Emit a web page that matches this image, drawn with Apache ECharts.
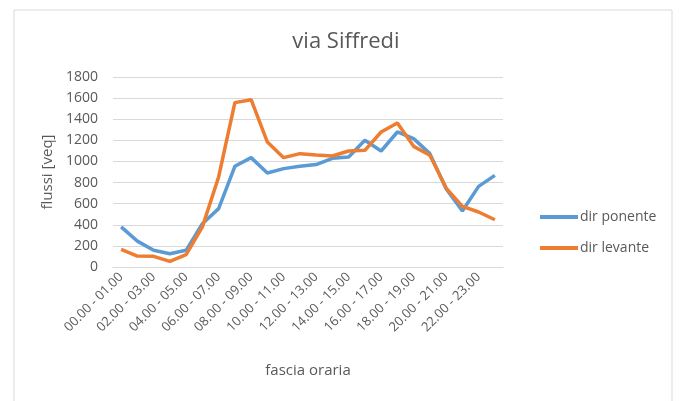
<!DOCTYPE html>
<html>
<head>
    <meta charset="utf-8"/>
    <title>via Siffredi</title>
    <script src="https://cdn.jsdelivr.net/npm/echarts@6/dist/echarts.min.js"></script>
    <style>
        html, body { margin: 0; padding: 0; background: #fff; }
    </style>
</head>
<body>
<div id="main" style="width: 679px; height: 401px"></div>
<script type="text/javascript">
    // fasce orarie
    var hours = ['00.00 - 01.00', '01.00 - 02.00', '02.00 - 03.00', '03.00 - 04.00', '04.00 - 05.00',
        '05.00 - 06.00', '06.00 - 07.00', '07.00 - 08.00', '08.00 - 09.00', '09.00 - 10.00',
        '10.00 - 11.00', '11.00 - 12.00', '12.00 - 13.00', '13.00 - 14.00', '14.00 - 15.00',
        '15.00 - 16.00', '16.00 - 17.00', '17.00 - 18.00', '18.00 - 19.00', '19.00 - 20.00',
        '20.00 - 21.00', '21.00 - 22.00', '22.00 - 23.00', '23.00 - 24.00'];
    var ponente = [380, 245, 158, 126, 158, 410, 553, 954, 1036, 890, 932, 954,
        970, 1030, 1042, 1200, 1099, 1279, 1216, 1074, 742, 530, 764, 868];
    var levante = [167, 104, 101, 54, 117, 380, 853, 1557, 1585, 1184, 1036, 1074,
        1061, 1052, 1099, 1105, 1279, 1364, 1143, 1058, 748, 575, 521, 448];

    var FONT = '"Open Sans", sans-serif';
    var TXT = '#595959';

    var myChart = echarts.init(document.getElementById('main'));

    var option = {
        animation: false,
        graphic: [{
            type: 'rect',
            shape: {x: 14, y: 10, width: 658, height: 400},
            style: {fill: 'none', stroke: '#d9d9d9', lineWidth: 1}
        }],
        title: {
            text: 'via Siffredi',
            left: 341,
            top: 26,
            textAlign: 'center',
            textStyle: {fontFamily: FONT, fontSize: 22, fontWeight: 'normal', color: TXT}
        },
        legend: {
            orient: 'vertical',
            left: 535,
            top: 205,
            itemWidth: 38,
            itemHeight: 4,
            itemGap: 17,
            icon: 'rect',
            textStyle: {fontFamily: FONT, fontSize: 14, color: TXT, padding: [0, 0, 0, -3]},
            data: ['dir ponente', 'dir levante']
        },
        grid: {left: 113, right: 176, top: 77, bottom: 134},
        xAxis: {
            type: 'category',
            data: hours,
            name: 'fascia oraria',
            nameLocation: 'middle',
            nameGap: 96,
            nameTextStyle: {fontFamily: FONT, fontSize: 15, color: TXT},
            axisLine: {lineStyle: {color: '#d9d9d9'}},
            axisTick: {show: false},
            axisLabel: {interval: 1, rotate: 45, fontFamily: FONT, fontSize: 13, color: TXT, margin: 8}
        },
        yAxis: {
            type: 'value',
            min: 0,
            max: 1800,
            interval: 200,
            name: 'flussi [veq]',
            nameLocation: 'middle',
            nameGap: 58,
            nameTextStyle: {fontFamily: FONT, fontSize: 15, color: TXT},
            axisLine: {show: false},
            axisTick: {show: false},
            axisLabel: {
                fontFamily: FONT, fontSize: 14, color: TXT, margin: 15,
                formatter: function (v) { return String(v); }
            },
            splitLine: {lineStyle: {color: '#d9d9d9'}}
        },
        series: [
            {
                name: 'dir ponente',
                type: 'line',
                data: ponente,
                showSymbol: false,
                color: '#5B9BD5',
                lineStyle: {width: 3.5, color: '#5B9BD5'}
            },
            {
                name: 'dir levante',
                type: 'line',
                data: levante,
                showSymbol: false,
                color: '#ED7D31',
                lineStyle: {width: 3.5, color: '#ED7D31'}
            }
        ]
    };

    myChart.setOption(option);
</script>
</body>
</html>
